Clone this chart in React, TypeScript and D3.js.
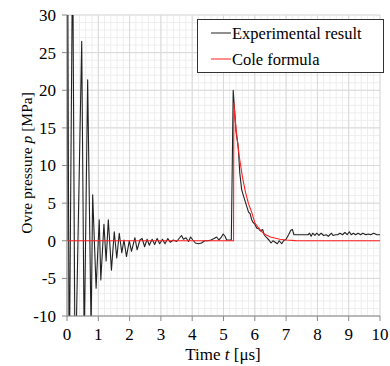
import React from "react";
import * as d3 from "d3";

const expT = [0.00,0.02,0.07,0.18,0.26,0.47,0.55,0.66,0.77,0.82,0.93,1.03,1.08,1.18,1.25,1.32,1.42,1.51,1.59,1.67,1.75,1.82,1.90,1.99,2.06,2.17,2.24,2.33,2.40,2.48,2.56,2.63,2.72,2.80,2.88,2.96,3.05,3.13,3.22,3.30,3.40,3.50,3.58,3.66,3.72,3.80,3.88,3.95,4.02,4.10,4.20,4.30,4.40,4.50,4.60,4.70,4.78,4.85,4.92,4.99,5.05,5.10,5.18,5.25,5.31,5.40,5.47,5.52,5.58,5.65,5.74,5.80,5.85,5.90,5.95,6.00,6.06,6.12,6.18,6.25,6.30,6.38,6.45,6.52,6.58,6.65,6.72,6.78,6.86,6.92,7.00,7.08,7.15,7.20,7.25,7.40,7.60,7.70,7.75,7.80,7.85,7.92,7.98,8.05,8.12,8.20,8.28,8.35,8.45,8.50,8.58,8.65,8.72,8.80,8.88,8.95,9.02,9.08,9.15,9.22,9.30,9.38,9.45,9.55,9.62,9.70,9.80,9.90,10.00];
const expP = [0,40,-20,40,-20,26.5,-14,21.4,-12,6.1,-6.3,2.8,-5.2,2.2,-2.7,2.8,-3.9,1.2,-2.3,1.0,-1.6,0.1,-2.1,0.0,-1.4,0.4,-1.2,0.1,0.3,-0.8,0.2,-0.6,0.2,-0.5,0.3,-0.4,0.2,-0.4,0.3,-0.2,0.1,-0.1,0.3,0.7,0.2,0.4,-0.1,0.5,0.1,-0.3,-0.4,-0.3,0.0,0.0,0.1,0.3,0.5,0.1,0.4,0.9,0.6,0.1,0.1,0.1,20.0,14.5,12.5,9.0,6.8,5.8,4.6,3.8,3.6,2.8,2.4,2.2,1.7,1.6,1.3,1.5,0.8,0.4,0.1,-0.3,0.0,-0.2,-0.4,0.0,-0.4,0.0,0.2,0.8,1.4,1.5,0.8,0.8,0.8,0.8,1.0,0.6,1.0,0.7,1.0,0.7,1.0,0.7,0.8,0.6,1.0,0.7,0.8,0.8,1.0,0.8,1.1,0.8,1.2,0.8,1.0,0.8,1.0,0.8,1.0,0.8,0.9,0.8,1.0,0.8,0.8];

const coleT = [0,5.32,5.33,5.40,5.50,5.60,5.70,5.80,5.90,6.00,6.10,6.20,6.30,6.40,6.50,6.60,6.70,6.80,7.00,7.30,10];
const coleP = [0,0,18.3,14.9,11.3,8.6,6.5,4.9,3.8,2.4,1.8,1.3,0.9,0.7,0.5,0.4,0.3,0.2,0.1,0.02,0];

const xTicks = [0,1,2,3,4,5,6,7,8,9,10];
const yTicks = [-10,-5,0,5,10,15,20,25,30];
const legendLabels = ["Experimental result", "Cole formula"];

export default function App() {
  const W = 390, H = 366;
  const left = 67, right = 380, top = 15, bottom = 316;
  const x = d3.scaleLinear().domain([0, 10]).range([left, right]);
  const y = d3.scaleLinear().domain([-10, 30]).range([bottom, top]);
  const minorX = d3.range(0, 10.001, 0.2);
  const minorY = d3.range(-10, 30.001, 1);
  const line = d3.line<[number, number]>().x(d => x(d[0])).y(d => y(d[1]));
  const expData: [number, number][] = expT.map((t, i) => [t, expP[i]]);
  const coleData: [number, number][] = coleT.map((t, i) => [t, coleP[i]]);
  const font = "'Liberation Serif', 'Times New Roman', serif";
  return (
    <svg width={W} height={H} style={{ position: "absolute", left: 0, top: 0, background: "#fff", fontFamily: font }}>
      <defs>
        <clipPath id="plotclip">
          <rect x={left} y={top} width={right - left} height={bottom - top} />
        </clipPath>
      </defs>
      {minorX.map((v, i) => (
        <line key={"mx" + i} x1={x(v)} x2={x(v)} y1={top} y2={bottom} stroke="#eeeeee" strokeWidth={1} />
      ))}
      {minorY.map((v, i) => (
        <line key={"my" + i} x1={left} x2={right} y1={y(v)} y2={y(v)} stroke="#eeeeee" strokeWidth={1} />
      ))}
      {xTicks.map((v) => (
        <line key={"gx" + v} x1={x(v)} x2={x(v)} y1={top} y2={bottom} stroke="#d9d9d9" strokeWidth={1} />
      ))}
      {yTicks.map((v) => (
        <line key={"gy" + v} x1={left} x2={right} y1={y(v)} y2={y(v)} stroke="#d9d9d9" strokeWidth={1} />
      ))}
      <g clipPath="url(#plotclip)">
        <path d={line(expData) || ""} fill="none" stroke="#222" strokeWidth={1.1} strokeLinejoin="round" />
        <path d={line(coleData) || ""} fill="none" stroke="#ff2020" strokeWidth={1.1} strokeLinejoin="round" />
      </g>
      <line x1={left} x2={left} y1={top} y2={bottom} stroke="#888" strokeWidth={1} />
      <line x1={left} x2={right} y1={bottom} y2={bottom} stroke="#888" strokeWidth={1} />
      {yTicks.map((v) => (
        <g key={"ty" + v}>
          <line x1={left - 5} x2={left} y1={y(v)} y2={y(v)} stroke="#888" />
          <text x={56} y={y(v)} dy="0.35em" textAnchor="end" fontSize={17} fill="#000">{v}</text>
        </g>
      ))}
      {xTicks.map((v) => (
        <g key={"tx" + v}>
          <line x1={x(v)} x2={x(v)} y1={bottom} y2={bottom + 5} stroke="#888" />
          <text x={x(v)} y={340} textAnchor="middle" fontSize={17} fill="#000">{v}</text>
        </g>
      ))}
      <text x={223} y={360} textAnchor="middle" fontSize={17} fill="#000">
        Time <tspan fontStyle="italic">t</tspan> [μs]
      </text>
      <text transform={`translate(32,${163}) rotate(-90)`} textAnchor="middle" fontSize={15.5} fill="#000">
        Ovre pressure <tspan fontStyle="italic">p</tspan> [MPa]
      </text>
      <rect x={197.5} y={19.5} width={186} height={53} fill="#fff" stroke="#333" strokeWidth={1} />
      {legendLabels.map((lab, i) => (
        <g key={lab}>
          <line x1={211} x2={231} y1={33 + i * 26} y2={33 + i * 26} stroke={i === 0 ? "#222" : "#ff2020"} strokeWidth={1} />
          <text x={232} y={33 + i * 26} dy="0.35em" fontSize={16.5} fill="#000">{lab}</text>
        </g>
      ))}
    </svg>
  );
}
